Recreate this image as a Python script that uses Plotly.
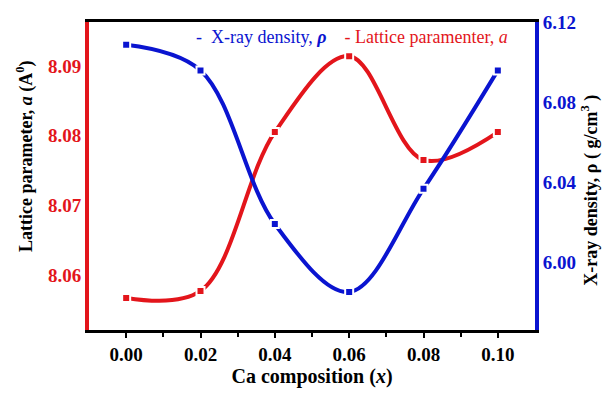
import plotly.graph_objects as go

# Ca-substituted samples: composition x
ca_x = [0.00, 0.02, 0.04, 0.06, 0.08, 0.10]
# Lattice parameter a (Å)
lattice_a = [8.0567, 8.0577, 8.0805, 8.0914, 8.0765, 8.0805]
# X-ray density rho (g/cm^3)
xray_rho = [6.1086, 6.0958, 6.0190, 5.9850, 6.0366, 6.0958]

x_ticks = [0.00, 0.02, 0.04, 0.06, 0.08, 0.10]
x_ticklabels = ["0.00", "0.02", "0.04", "0.06", "0.08", "0.10"]
a_ticks = [8.06, 8.07, 8.08, 8.09]
rho_ticks = [6.00, 6.04, 6.08, 6.12]

RED = "#e3151b"
BLUE = "#0a14d0"
SERIF = "Liberation Serif"

fig = go.Figure()

fig.add_trace(go.Scatter(
    x=ca_x, y=lattice_a, yaxis="y", mode="lines+markers",
    line=dict(color=RED, width=4, shape="spline", smoothing=1.0),
    marker=dict(symbol="square", size=8, color=RED, line=dict(color="white", width=2)),
    showlegend=False,
))
fig.add_trace(go.Scatter(
    x=ca_x, y=xray_rho, yaxis="y2", mode="lines+markers",
    line=dict(color=BLUE, width=4, shape="spline", smoothing=1.0),
    marker=dict(symbol="square", size=8, color=BLUE, line=dict(color="white", width=2)),
    showlegend=False,
))

# series key along the top of the frame
fig.add_annotation(
    xref="paper", yref="paper", x=0.589, y=0.952, xanchor="center", yanchor="middle",
    showarrow=False,
    text=(f"<span style='color:{BLUE}'>-  X-ray density, <i><b>ρ</b></i></span>"
          f"&nbsp;&nbsp;&nbsp;&nbsp;<span style='color:{RED}'>- Lattice paramenter, <i>a</i></span>"),
    font=dict(family=SERIF, size=18),
)

# axis titles
fig.add_annotation(
    xref="paper", yref="paper", x=-0.1435, y=0.565, xanchor="center", yanchor="middle",
    showarrow=False, textangle=-90,
    text="<b>Lattice parameter, <i>a</i> (A<sup>0</sup>)</b>",
    font=dict(family=SERIF, size=18, color="black"),
)
fig.add_annotation(
    xref="paper", yref="paper", x=1.123, y=0.455, xanchor="center", yanchor="middle",
    showarrow=False, textangle=-90,
    text="<b>X-ray density, ρ ( g/cm<sup>3</sup> )</b>",
    font=dict(family=SERIF, size=18, color="black"),
)

fig.update_layout(
    width=604, height=394,
    margin=dict(l=89, r=69, t=17, b=53),
    paper_bgcolor="white", plot_bgcolor="white",
    font=dict(family=SERIF, size=17, color="black"),
    xaxis=dict(
        range=[-0.01, 0.11], tickvals=x_ticks, ticktext=x_ticklabels,
        showline=True, linecolor="black", linewidth=3, mirror=True,
        ticks="outside", ticklen=5, tickwidth=2, tickcolor="black",
        minor=dict(tickvals=[0.01, 0.03, 0.05, 0.07, 0.09], ticks="outside",
                   ticklen=4, tickwidth=2, tickcolor="black"),
        showgrid=False, zeroline=False,
        tickfont=dict(family=SERIF, size=19, color="black", weight="bold"),
        title=dict(text="<b>Ca composition (<i>x</i>)</b>", standoff=3,
                   font=dict(family=SERIF, size=20, color="black")),
    ),
    yaxis=dict(
        range=[8.0521, 8.0963], tickvals=a_ticks, tickformat=".2f",
        showline=True, linecolor=RED, linewidth=4,
        ticks="", showgrid=False, zeroline=False,
        tickfont=dict(family=SERIF, size=19, color=RED, weight="bold"),
    ),
    yaxis2=dict(
        range=[5.966, 6.12], tickvals=rho_ticks, tickformat=".2f",
        overlaying="y", side="right",
        showline=True, linecolor=BLUE, linewidth=4,
        ticks="", showgrid=False, zeroline=False,
        tickfont=dict(family=SERIF, size=19, color=BLUE, weight="bold"),
    ),
)

fig.write_html("out.html")
